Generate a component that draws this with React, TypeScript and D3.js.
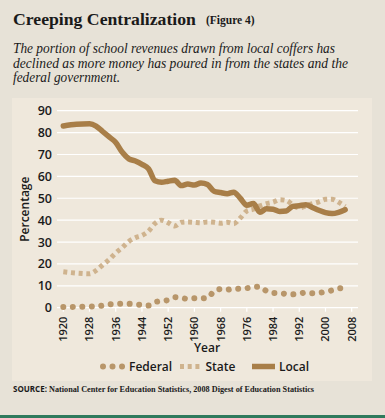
import React from 'react';
import * as d3 from 'd3';

const years = [1920, 1924, 1928, 1930, 1932, 1934, 1936, 1938, 1940, 1942, 1944, 1946, 1948, 1950, 1952, 1954, 1956, 1958, 1960, 1962, 1964, 1966, 1968, 1970, 1972, 1974, 1976, 1978, 1980, 1982, 1984, 1986, 1988, 1990, 1992, 1994, 1996, 1998, 2000, 2002, 2004, 2006];

const federal = [0.3, 0.4, 0.5, 0.5, 1.0, 1.5, 1.7, 1.8, 1.8, 1.5, 1.3, 1.0, 2.6, 3.0, 3.5, 4.8, 4.5, 4.0, 4.3, 4.3, 4.4, 7.6, 8.5, 8.2, 8.8, 8.6, 8.9, 9.5, 9.6, 7.6, 6.8, 6.6, 6.3, 6.1, 6.4, 6.9, 6.6, 6.8, 7.3, 7.9, 8.8, 9.0];
const state = [16.4, 15.8, 15.5, 17.0, 19.5, 22.0, 25.0, 27.5, 30.3, 32.0, 33.0, 35.0, 38.5, 40.0, 38.8, 37.3, 39.0, 39.2, 39.0, 38.8, 39.2, 39.0, 38.6, 39.0, 38.4, 41.0, 44.2, 45.0, 46.5, 47.5, 48.2, 49.3, 49.0, 47.0, 45.6, 46.5, 47.5, 48.4, 49.5, 49.6, 48.2, 46.2];
const local = [83.0, 83.8, 84.0, 83.0, 80.5, 78.0, 75.5, 71.0, 68.0, 67.0, 65.5, 63.5, 58.0, 57.3, 57.8, 58.2, 55.8, 56.5, 56.0, 57.0, 56.3, 53.2, 52.6, 52.1, 52.8, 50.0, 46.8, 47.6, 43.6, 45.2, 45.0, 44.0, 44.2, 46.3, 46.6, 47.0, 45.8, 44.5, 43.4, 43.0, 43.6, 44.8];

const xTicks = [1920, 1928, 1936, 1944, 1952, 1960, 1968, 1976, 1984, 1992, 2000, 2008];
const yTicks = [0, 10, 20, 30, 40, 50, 60, 70, 80, 90];

const subtitleLines = [
  'The portion of school revenues drawn from local coffers has',
  'declined as more money has poured in from the states and the',
  'federal government.',
];
const subtitleWidths = [322, 335, 107];

const colors = { federal: '#b8966a', state: '#cfb38e', local: '#a87e48' };

const sans = '"Open Sans", "DejaVu Sans", sans-serif';
const serif = '"Liberation Serif", "DejaVu Serif", serif';

export default function App() {
  const x = d3.scaleLinear().domain([1920, 2008]).range([63.3, 351.7]);
  const y = d3.scaleLinear().domain([0, 90]).range([307.7, 110.7]);

  const line = (vals: number[]) =>
    d3.line<number>()
      .x((_, i) => x(years[i]))
      .y(d => y(d))
      .curve(d3.curveMonotoneX)(vals) || '';

  return (
    <svg width={385} height={418} style={{ position: 'absolute', left: 0, top: 0 }}>
      <rect width={385} height={418} fill="#e7e2d7" />
      <rect x={12} y={98} width={360} height={283} fill="#efe8dc" />
      <rect x={0} y={415} width={385} height={3} fill="#2f7a5c" />

      {/* heading */}
      <text x={13} y={25} fontFamily={serif} fontWeight="bold" fontSize={17.7} fill="#1a1a1a">
        Creeping Centralization
      </text>
      <text x={206} y={24} fontFamily={serif} fontWeight="bold" fontSize={11.5} fill="#1a1a1a">(Figure 4)</text>
      {subtitleLines.map((t, i) => (
        <text key={i} x={13} y={53 + i * 14.5} fontFamily={serif} fontStyle="italic" fontSize={14.5} fill="#1a1a1a"
          textLength={subtitleWidths[i]} lengthAdjust="spacingAndGlyphs">{t}</text>
      ))}

      {/* grid */}
      {yTicks.map(t => (
        <g key={t}>
          <line x1={57} x2={358} y1={y(t)} y2={y(t)} stroke="#fff" strokeWidth={1.2} />
          <text x={52} y={y(t)} dy="0.36em" textAnchor="end" fontFamily={sans} fontWeight={600} fontSize={12.5} fill="#1a1a1a">{t}</text>
        </g>
      ))}
      {xTicks.map(t => (
        <g key={t}>
          <line x1={x(t)} x2={x(t)} y1={y(0)} y2={y(0) + 4} stroke="#fff" strokeWidth={1.2} />
          <text transform={`translate(${x(t)},${y(0) + 9}) rotate(-90)`} dy="0.36em" textAnchor="end" fontFamily={sans} fontWeight={600} fontSize={11} fill="#1a1a1a">{t}</text>
        </g>
      ))}
      <text transform={`translate(29,${(y(0) + y(90)) / 2}) rotate(-90)`} textAnchor="middle" fontFamily={sans} fontWeight={600} fontSize={12} fill="#1a1a1a">Percentage</text>
      <text x={207} y={352} textAnchor="middle" fontFamily={sans} fontWeight={600} fontSize={12} fill="#1a1a1a">Year</text>

      {/* series */}
      <path d={line(state)} fill="none" stroke={colors.state} strokeWidth={5} strokeDasharray="4 3.7" />
      <path d={line(federal)} fill="none" stroke={colors.federal} strokeWidth={6} strokeLinecap="round" strokeDasharray="0.01 9.5" />
      <path d={line(local)} fill="none" stroke={colors.local} strokeWidth={5.5} strokeLinejoin="round" strokeLinecap="round" />

      {/* legend */}
      <line x1={103} x2={124} y1={366.5} y2={366.5} stroke={colors.federal} strokeWidth={6} strokeLinecap="round" strokeDasharray="0.01 9.5" />
      <text x={129} y={371} fontFamily={sans} fontWeight={600} fontSize={12} fill="#1a1a1a">Federal</text>
      <line x1={180} x2={202} y1={366.5} y2={366.5} stroke={colors.state} strokeWidth={5} strokeDasharray="4 3.7" />
      <text x={205.5} y={371} fontFamily={sans} fontWeight={600} fontSize={12} fill="#1a1a1a">State</text>
      <line x1={252} x2={275} y1={366.5} y2={366.5} stroke={colors.local} strokeWidth={5.5} />
      <text x={279} y={371} fontFamily={sans} fontWeight={600} fontSize={12} fill="#1a1a1a">Local</text>

      {/* source */}
      <text x={13} y={392} fontSize={8} fill="#1a1a1a">
        <tspan fontFamily={sans} fontWeight={700}>SOURCE: </tspan>
        <tspan fontFamily={serif} fontWeight={700} textLength={265} lengthAdjust="spacingAndGlyphs">National Center for Education Statistics, 2008 Digest of Education Statistics</tspan>
      </text>
    </svg>
  );
}
